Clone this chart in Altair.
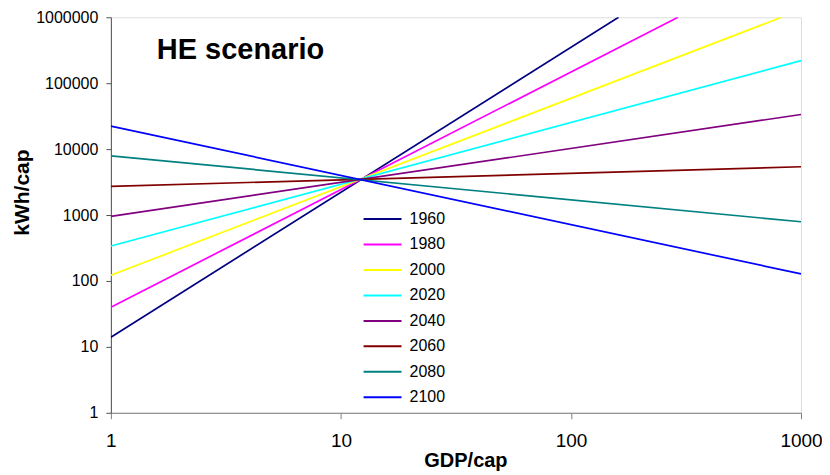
import altair as alt
import pandas as pd

# Series values (two end points per straight log-log line)
years = ["1960", "1980", "2000", "2020", "2040", "2060", "2080", "2100"]
y_at_1 = [14, 40, 122, 339, 955, 2720, 7900, 22300]
x_end = [161, 292, 823, 1000, 1000, 1000, 1000, 1000]
y_end = [1000000, 1000000, 1000000, 220000, 33500, 5400, 790, 128]
colors = ["#000080", "#FF00FF", "#FFFF00", "#00FFFF", "#800080", "#800000", "#008080", "#0000FF"]

x_ticks = [1, 10, 100, 1000]
y_ticks = [1, 10, 100, 1000, 10000, 100000, 1000000]

rows = []
for yr, a, xe, ye in zip(years, y_at_1, x_end, y_end):
    rows.append({"year": yr, "gdp": 1, "kwh": a})
    rows.append({"year": yr, "gdp": xe, "kwh": ye})
df = pd.DataFrame(rows)

FONT = "Liberation Sans"

lines = alt.Chart(df).mark_line(strokeWidth=1.7, clip=True).encode(
    x=alt.X("gdp:Q",
            scale=alt.Scale(type="log", domain=[1, 1000], nice=False),
            axis=alt.Axis(values=x_ticks, format="d", grid=False, title="GDP/cap",
                          domainColor="#808080", tickColor="#808080", tickSize=6,
                          labelFontSize=19, labelPadding=13, labelColor="#000",
                          labelFont=FONT, titleFont=FONT, titleFontSize=20,
                          titleFontWeight="bold", titleX=355, titleY=48,
                          titleBaseline="middle", titleColor="#000",
                          labelFlush=False, labelOverlap=False)),
    y=alt.Y("kwh:Q",
            scale=alt.Scale(type="log", domain=[1, 1000000], nice=False),
            axis=alt.Axis(values=y_ticks, format="d", grid=False, title="kWh/cap",
                          domainColor="#505050", tickColor="#505050", tickSize=5,
                          labelFontSize=16, labelPadding=8, labelColor="#000",
                          labelFont=FONT, titleFont=FONT, titleFontSize=21,
                          titleFontWeight="bold", titleX=-88, titleY=175,
                          titleAngle=-90, titleAlign="center",
                          titleBaseline="middle", titleColor="#000",
                          labelOverlap=False)),
    color=alt.Color("year:N",
                    scale=alt.Scale(domain=years, range=colors),
                    legend=alt.Legend(title=None, orient="none",
                                      legendX=264, legendY=194,
                                      symbolType="M-3.8,0H3.8", symbolSize=100,
                                      symbolStrokeWidth=2, labelFontSize=16,
                                      labelFont=FONT, labelColor="#000",
                                      labelOffset=19, rowPadding=9.5,
                                      padding=0)),
    order=alt.Order("gdp:Q"),
)

title = alt.Chart(pd.DataFrame({"t": ["HE scenario"]})).mark_text(
    font=FONT, fontSize=29, fontWeight="bold", align="left",
    baseline="alphabetic", color="#000"
).encode(text="t:N", x=alt.value(46), y=alt.value(42))

chart = alt.layer(lines, title).properties(
    width=691, height=396,
    autosize=alt.AutoSizeParams(type="none"),
    padding={"left": 103, "top": 9, "right": 21, "bottom": 58},
).configure_view(stroke=None).configure(background="white")

chart.save("out.html", embed_options={"renderer": "svg", "actions": False})
